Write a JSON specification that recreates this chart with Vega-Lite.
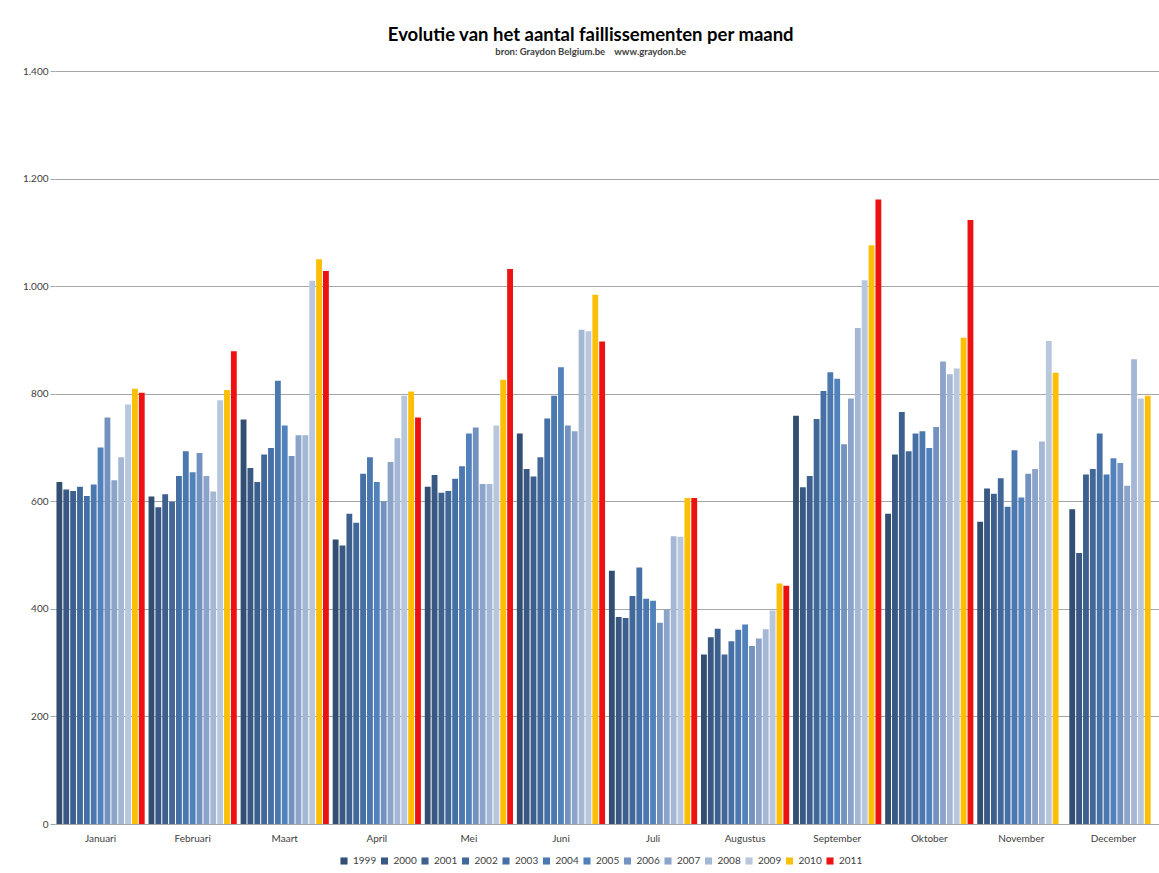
{
  "$schema": "https://vega.github.io/schema/vega-lite/v6.json",
  "width": 1104,
  "height": 753,
  "autosize": {"type": "none"},
  "padding": {"left": 55, "top": 71, "right": 0, "bottom": 49},
  "background": "white",
  "title": {
    "text": "Evolutie van het aantal faillissementen per maand",
    "subtitle": "bron: Graydon Belgium.be\u00a0\u00a0\u00a0\u00a0www.graydon.be",
    "anchor": "middle",
    "frame": "bounds",
    "font": "Lato",
    "fontSize": 18.5,
    "fontWeight": "bold",
    "color": "#000000",
    "subtitleFont": "Lato",
    "subtitleFontSize": 9.5,
    "subtitleFontWeight": "bold",
    "subtitleColor": "#404040",
    "subtitlePadding": 2,
    "offset": 10
  },
  "data": {
    "values": [
      {"maand": "Januari", "jaar": "1999", "aantal": 636},
      {"maand": "Januari", "jaar": "2000", "aantal": 622},
      {"maand": "Januari", "jaar": "2001", "aantal": 619},
      {"maand": "Januari", "jaar": "2002", "aantal": 627},
      {"maand": "Januari", "jaar": "2003", "aantal": 610},
      {"maand": "Januari", "jaar": "2004", "aantal": 631},
      {"maand": "Januari", "jaar": "2005", "aantal": 700},
      {"maand": "Januari", "jaar": "2006", "aantal": 756},
      {"maand": "Januari", "jaar": "2007", "aantal": 639},
      {"maand": "Januari", "jaar": "2008", "aantal": 682},
      {"maand": "Januari", "jaar": "2009", "aantal": 780},
      {"maand": "Januari", "jaar": "2010", "aantal": 809},
      {"maand": "Januari", "jaar": "2011", "aantal": 802},
      {"maand": "Februari", "jaar": "1999", "aantal": 609},
      {"maand": "Februari", "jaar": "2000", "aantal": 589},
      {"maand": "Februari", "jaar": "2001", "aantal": 613},
      {"maand": "Februari", "jaar": "2002", "aantal": 599},
      {"maand": "Februari", "jaar": "2003", "aantal": 647},
      {"maand": "Februari", "jaar": "2004", "aantal": 693},
      {"maand": "Februari", "jaar": "2005", "aantal": 654},
      {"maand": "Februari", "jaar": "2006", "aantal": 690},
      {"maand": "Februari", "jaar": "2007", "aantal": 647},
      {"maand": "Februari", "jaar": "2008", "aantal": 618},
      {"maand": "Februari", "jaar": "2009", "aantal": 788},
      {"maand": "Februari", "jaar": "2010", "aantal": 807},
      {"maand": "Februari", "jaar": "2011", "aantal": 879},
      {"maand": "Maart", "jaar": "1999", "aantal": 752},
      {"maand": "Maart", "jaar": "2000", "aantal": 662},
      {"maand": "Maart", "jaar": "2001", "aantal": 636},
      {"maand": "Maart", "jaar": "2002", "aantal": 687},
      {"maand": "Maart", "jaar": "2003", "aantal": 699},
      {"maand": "Maart", "jaar": "2004", "aantal": 824},
      {"maand": "Maart", "jaar": "2005", "aantal": 741},
      {"maand": "Maart", "jaar": "2006", "aantal": 684},
      {"maand": "Maart", "jaar": "2007", "aantal": 723},
      {"maand": "Maart", "jaar": "2008", "aantal": 723},
      {"maand": "Maart", "jaar": "2009", "aantal": 1010},
      {"maand": "Maart", "jaar": "2010", "aantal": 1050},
      {"maand": "Maart", "jaar": "2011", "aantal": 1028},
      {"maand": "April", "jaar": "1999", "aantal": 529},
      {"maand": "April", "jaar": "2000", "aantal": 518},
      {"maand": "April", "jaar": "2001", "aantal": 577},
      {"maand": "April", "jaar": "2002", "aantal": 560},
      {"maand": "April", "jaar": "2003", "aantal": 651},
      {"maand": "April", "jaar": "2004", "aantal": 682},
      {"maand": "April", "jaar": "2005", "aantal": 636},
      {"maand": "April", "jaar": "2006", "aantal": 600},
      {"maand": "April", "jaar": "2007", "aantal": 673},
      {"maand": "April", "jaar": "2008", "aantal": 717},
      {"maand": "April", "jaar": "2009", "aantal": 796},
      {"maand": "April", "jaar": "2010", "aantal": 804},
      {"maand": "April", "jaar": "2011", "aantal": 756},
      {"maand": "Mei", "jaar": "1999", "aantal": 627},
      {"maand": "Mei", "jaar": "2000", "aantal": 649},
      {"maand": "Mei", "jaar": "2001", "aantal": 616},
      {"maand": "Mei", "jaar": "2002", "aantal": 619},
      {"maand": "Mei", "jaar": "2003", "aantal": 642},
      {"maand": "Mei", "jaar": "2004", "aantal": 665},
      {"maand": "Mei", "jaar": "2005", "aantal": 726},
      {"maand": "Mei", "jaar": "2006", "aantal": 737},
      {"maand": "Mei", "jaar": "2007", "aantal": 632},
      {"maand": "Mei", "jaar": "2008", "aantal": 632},
      {"maand": "Mei", "jaar": "2009", "aantal": 741},
      {"maand": "Mei", "jaar": "2010", "aantal": 826},
      {"maand": "Mei", "jaar": "2011", "aantal": 1032},
      {"maand": "Juni", "jaar": "1999", "aantal": 726},
      {"maand": "Juni", "jaar": "2000", "aantal": 660},
      {"maand": "Juni", "jaar": "2001", "aantal": 646},
      {"maand": "Juni", "jaar": "2002", "aantal": 682},
      {"maand": "Juni", "jaar": "2003", "aantal": 754},
      {"maand": "Juni", "jaar": "2004", "aantal": 796},
      {"maand": "Juni", "jaar": "2005", "aantal": 849},
      {"maand": "Juni", "jaar": "2006", "aantal": 741},
      {"maand": "Juni", "jaar": "2007", "aantal": 730},
      {"maand": "Juni", "jaar": "2008", "aantal": 919},
      {"maand": "Juni", "jaar": "2009", "aantal": 916},
      {"maand": "Juni", "jaar": "2010", "aantal": 984},
      {"maand": "Juni", "jaar": "2011", "aantal": 897},
      {"maand": "Juli", "jaar": "1999", "aantal": 471},
      {"maand": "Juli", "jaar": "2000", "aantal": 385},
      {"maand": "Juli", "jaar": "2001", "aantal": 383},
      {"maand": "Juli", "jaar": "2002", "aantal": 424},
      {"maand": "Juli", "jaar": "2003", "aantal": 477},
      {"maand": "Juli", "jaar": "2004", "aantal": 419},
      {"maand": "Juli", "jaar": "2005", "aantal": 415},
      {"maand": "Juli", "jaar": "2006", "aantal": 374},
      {"maand": "Juli", "jaar": "2007", "aantal": 399},
      {"maand": "Juli", "jaar": "2008", "aantal": 535},
      {"maand": "Juli", "jaar": "2009", "aantal": 534},
      {"maand": "Juli", "jaar": "2010", "aantal": 606},
      {"maand": "Juli", "jaar": "2011", "aantal": 606},
      {"maand": "Augustus", "jaar": "1999", "aantal": 315},
      {"maand": "Augustus", "jaar": "2000", "aantal": 347},
      {"maand": "Augustus", "jaar": "2001", "aantal": 363},
      {"maand": "Augustus", "jaar": "2002", "aantal": 315},
      {"maand": "Augustus", "jaar": "2003", "aantal": 340},
      {"maand": "Augustus", "jaar": "2004", "aantal": 361},
      {"maand": "Augustus", "jaar": "2005", "aantal": 371},
      {"maand": "Augustus", "jaar": "2006", "aantal": 331},
      {"maand": "Augustus", "jaar": "2007", "aantal": 345},
      {"maand": "Augustus", "jaar": "2008", "aantal": 362},
      {"maand": "Augustus", "jaar": "2009", "aantal": 397},
      {"maand": "Augustus", "jaar": "2010", "aantal": 447},
      {"maand": "Augustus", "jaar": "2011", "aantal": 443},
      {"maand": "September", "jaar": "1999", "aantal": 759},
      {"maand": "September", "jaar": "2000", "aantal": 626},
      {"maand": "September", "jaar": "2001", "aantal": 647},
      {"maand": "September", "jaar": "2002", "aantal": 753},
      {"maand": "September", "jaar": "2003", "aantal": 805},
      {"maand": "September", "jaar": "2004", "aantal": 840},
      {"maand": "September", "jaar": "2005", "aantal": 828},
      {"maand": "September", "jaar": "2006", "aantal": 706},
      {"maand": "September", "jaar": "2007", "aantal": 791},
      {"maand": "September", "jaar": "2008", "aantal": 922},
      {"maand": "September", "jaar": "2009", "aantal": 1011},
      {"maand": "September", "jaar": "2010", "aantal": 1076},
      {"maand": "September", "jaar": "2011", "aantal": 1161},
      {"maand": "Oktober", "jaar": "1999", "aantal": 577},
      {"maand": "Oktober", "jaar": "2000", "aantal": 687},
      {"maand": "Oktober", "jaar": "2001", "aantal": 766},
      {"maand": "Oktober", "jaar": "2002", "aantal": 693},
      {"maand": "Oktober", "jaar": "2003", "aantal": 726},
      {"maand": "Oktober", "jaar": "2004", "aantal": 730},
      {"maand": "Oktober", "jaar": "2005", "aantal": 699},
      {"maand": "Oktober", "jaar": "2006", "aantal": 738},
      {"maand": "Oktober", "jaar": "2007", "aantal": 860},
      {"maand": "Oktober", "jaar": "2008", "aantal": 836},
      {"maand": "Oktober", "jaar": "2009", "aantal": 847},
      {"maand": "Oktober", "jaar": "2010", "aantal": 904},
      {"maand": "Oktober", "jaar": "2011", "aantal": 1123},
      {"maand": "November", "jaar": "1999", "aantal": 562},
      {"maand": "November", "jaar": "2000", "aantal": 624},
      {"maand": "November", "jaar": "2001", "aantal": 614},
      {"maand": "November", "jaar": "2002", "aantal": 643},
      {"maand": "November", "jaar": "2003", "aantal": 590},
      {"maand": "November", "jaar": "2004", "aantal": 695},
      {"maand": "November", "jaar": "2005", "aantal": 607},
      {"maand": "November", "jaar": "2006", "aantal": 651},
      {"maand": "November", "jaar": "2007", "aantal": 660},
      {"maand": "November", "jaar": "2008", "aantal": 711},
      {"maand": "November", "jaar": "2009", "aantal": 898},
      {"maand": "November", "jaar": "2010", "aantal": 839},
      {"maand": "December", "jaar": "1999", "aantal": 585},
      {"maand": "December", "jaar": "2000", "aantal": 504},
      {"maand": "December", "jaar": "2001", "aantal": 650},
      {"maand": "December", "jaar": "2002", "aantal": 660},
      {"maand": "December", "jaar": "2003", "aantal": 726},
      {"maand": "December", "jaar": "2004", "aantal": 650},
      {"maand": "December", "jaar": "2005", "aantal": 680},
      {"maand": "December", "jaar": "2006", "aantal": 671},
      {"maand": "December", "jaar": "2007", "aantal": 629},
      {"maand": "December", "jaar": "2008", "aantal": 864},
      {"maand": "December", "jaar": "2009", "aantal": 791},
      {"maand": "December", "jaar": "2010", "aantal": 796}
    ]
  },
  "mark": {"type": "bar"},
  "encoding": {
    "x": {
      "field": "maand",
      "type": "nominal",
      "sort": ["Januari", "Februari", "Maart", "April", "Mei", "Juni", "Juli", "Augustus", "September", "Oktober", "November", "December"],
      "scale": {"paddingInner": 0.03, "paddingOuter": 0.01},
      "axis": {
        "title": null,
        "labelAngle": 0,
        "ticks": false,
        "domainColor": "#a6a6a6",
        "labelFont": "Lato",
        "labelFontSize": 10,
        "labelColor": "#404040",
        "labelPadding": 9
      }
    },
    "xOffset": {
      "field": "jaar",
      "type": "nominal",
      "scale": {"paddingInner": 0.15, "paddingOuter": 0.08}
    },
    "y": {
      "field": "aantal",
      "type": "quantitative",
      "scale": {"domain": [0, 1400]},
      "axis": {
        "title": null,
        "values": [0, 200, 400, 600, 800, 1000, 1200, 1400],
        "labelExpr": "replace(format(datum.value, ','), ',', '.')",
        "grid": true,
        "gridColor": "#a6a6a6",
        "domain": false,
        "tickColor": "#a6a6a6",
        "tickSize": 5,
        "labelPadding": 2,
        "labelFont": "Lato",
        "labelFontSize": 10,
        "labelColor": "#404040"
      }
    },
    "color": {
      "field": "jaar",
      "type": "nominal",
      "scale": {
        "domain": ["1999", "2000", "2001", "2002", "2003", "2004", "2005", "2006", "2007", "2008", "2009", "2010", "2011"],
        "range": ["#334e73", "#395984", "#3d608f", "#42689a", "#4670a5", "#4a78af", "#5282bc", "#7492c0", "#8da4ca", "#a4b7d5", "#b9c7dd", "#fbbf08", "#ee1111"]
      },
      "legend": {
        "orient": "none",
        "legendX": 284,
        "legendY": 785,
        "direction": "horizontal",
        "columns": 13,
        "title": null,
        "symbolType": "square",
        "symbolSize": 50,
        "symbolStrokeWidth": 0,
        "labelFont": "Lato",
        "labelFontSize": 10,
        "labelColor": "#404040",
        "labelOffset": 4,
        "columnPadding": 2.5
      }
    }
  },
  "config": {"view": {"stroke": null}}
}
